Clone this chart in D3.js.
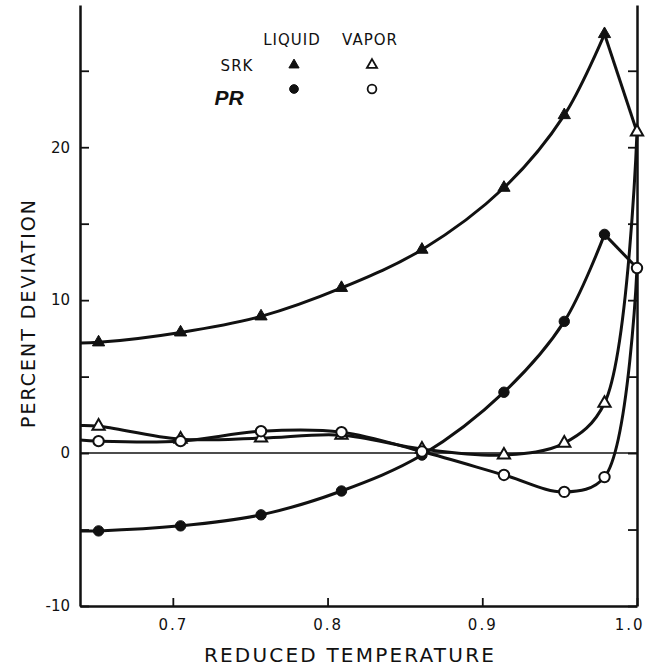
<!DOCTYPE html>
<html>
<head>
<meta charset="utf-8">
<script src="https://cdn.jsdelivr.net/npm/d3@7"></script>
<style>
    body { margin: 0; background: #fff; }
    text { font-family: "DejaVu Sans", sans-serif; fill: #111; }
</style>
</head>
<body>
<div id="chart"></div>
<script>
/*----- Data -----*/

// reduced temperature of each point, first entry is where the curve leaves the left axis
const trValues = [0.64, 0.652, 0.705, 0.757, 0.809, 0.861, 0.914, 0.953, 0.979, 1.0]

// percent deviation, same order as trValues
const srkLiquid = [7.2, 7.24, 7.89, 8.94, 10.8, 13.3, 17.35, 22.1, 27.4, 21.0]
const prLiquid = [-5.1, -5.09, -4.76, -4.04, -2.48, -0.13, 3.98, 8.61, 14.3, 12.1]
const srkVapor = [1.8, 1.76, 0.91, 0.98, 1.17, 0.26, -0.13, 0.65, 3.26, 21.0]
const prVapor = [0.85, 0.78, 0.78, 1.43, 1.37, 0.1, -1.43, -2.54, -1.57, 12.1]

const yTicks = [-10, -5, 0, 5, 10, 15, 20, 25]
const yLabels = [-10, 0, 10, 20]
const xTicks = [0.7, 0.8, 0.9, 1.0]

const legendCols = ["LIQUID", "VAPOR"]
const legendRows = ["SRK", "PR"]

/*----- Setup -----*/

const width = 645, height = 668
const ink = "#111"

const svg = d3.select("#chart").append("svg")
    .attr("width", width)
    .attr("height", height)

const x = d3.scaleLinear().domain([0.64, 1.0]).range([80, 637])
const y = d3.scaleLinear().domain([-10, 29.3]).range([606, 5])

// axes (ticks point inward)
const leftAxis = svg.append("g")
    .attr("transform", `translate(${x(0.64)},0)`)
    .call(d3.axisLeft(y).tickValues(yTicks).tickSizeInner(-9).tickSizeOuter(0).tickPadding(10)
        .tickFormat(d => yLabels.includes(d) ? d : ""))
const rightAxis = svg.append("g")
    .attr("transform", `translate(${x(1.0)},0)`)
    .call(d3.axisRight(y).tickValues(yTicks).tickSizeInner(-9).tickSizeOuter(0).tickFormat(""))
const bottomAxis = svg.append("g")
    .attr("transform", `translate(0,${y(-10)})`)
    .call(d3.axisBottom(x).tickValues(xTicks).tickSizeInner(-8).tickSizeOuter(0).tickPadding(13)
        .tickFormat(d3.format(".1f")))

for (const g of [leftAxis, rightAxis, bottomAxis]) {
    g.select(".domain").attr("stroke", ink).attr("stroke-width", 2.5)
    g.selectAll(".tick line").attr("stroke", ink).attr("stroke-width", 1.8)
    g.selectAll(".tick text").style("font-size", "15px").attr("fill", ink)
}
bottomAxis.selectAll(".tick text").style("letter-spacing", "2px")
// last label sits against the page edge
bottomAxis.selectAll(".tick text").filter(d => d === 1.0)
    .attr("text-anchor", "end")
    .attr("dx", 7)

// zero line
svg.append("line")
    .attr("x1", x(0.64)).attr("x2", x(1.0))
    .attr("y1", y(0)).attr("y2", y(0))
    .attr("stroke", ink).attr("stroke-width", 1.5)

// axis titles
svg.append("text")
    .attr("x", 350).attr("y", 662)
    .attr("text-anchor", "middle")
    .style("font-size", "20px")
    .style("letter-spacing", "2.2px")
    .text("REDUCED TEMPERATURE")
svg.append("text")
    .attr("transform", "translate(35,313) rotate(-90)")
    .attr("text-anchor", "middle")
    .style("font-size", "19px")
    .style("letter-spacing", "2px")
    .text("PERCENT DEVIATION")

/*----- Curves -----*/

const smooth = d3.line()
    .x(d => x(d[0]))
    .y(d => y(d[1]))
    .curve(d3.curveCatmullRom.alpha(0.5))
const straight = d3.line()
    .x(d => x(d[0]))
    .y(d => y(d[1]))

const series = [
    { values: srkLiquid, symbol: d3.symbolTriangle, open: false, liquid: true },
    { values: prLiquid, symbol: d3.symbolCircle, open: false, liquid: true },
    { values: srkVapor, symbol: d3.symbolTriangle, open: true, liquid: false },
    { values: prVapor, symbol: d3.symbolCircle, open: true, liquid: false }
]

series.forEach(s => {
    const pts = trValues.map((t, i) => [t, s.values[i]])
    // liquid curves peak at 0.979 then run straight into the critical point
    const rising = s.liquid ? pts.slice(0, pts.length - 1) : pts
    svg.append("path")
        .attr("d", smooth(rising))
        .attr("fill", "none").attr("stroke", ink).attr("stroke-width", 3)
    if (s.liquid) {
        svg.append("path")
            .attr("d", straight(pts.slice(pts.length - 2)))
            .attr("fill", "none").attr("stroke", ink).attr("stroke-width", 3)
    }
})

// markers drawn on top of every curve
series.forEach(s => {
    const pts = trValues.map((t, i) => [t, s.values[i]]).slice(1, s.liquid ? trValues.length - 1 : trValues.length)
    const size = s.symbol === d3.symbolTriangle ? 65 : 85
    svg.append("g").selectAll("path")
        .data(pts)
        .join("path")
        .attr("transform", d => `translate(${x(d[0])},${y(d[1])})`)
        .attr("d", d3.symbol(s.symbol, size))
        .attr("fill", s.open ? "#fff" : ink)
        .attr("stroke", ink)
        .attr("stroke-width", s.open ? 2 : 1)
})

/*----- Legend -----*/

const legend = svg.append("g")
const colX = [294, 372]
const rowY = [65, 89]

legend.selectAll(".col")
    .data(legendCols)
    .join("text")
    .attr("x", (d, i) => colX[i] - 2)
    .attr("y", 45)
    .attr("text-anchor", "middle")
    .style("font-size", "15px")
    .style("letter-spacing", "1px")
    .text(d => d)

legend.append("text")
    .attr("x", 237).attr("y", 71)
    .attr("text-anchor", "middle")
    .style("font-size", "15px")
    .style("letter-spacing", "1px")
    .text(legendRows[0])
legend.append("text")
    .attr("x", 229).attr("y", 105)
    .attr("text-anchor", "middle")
    .style("font-family", "Liberation Sans, Arial, sans-serif")
    .style("font-size", "21px")
    .style("font-weight", "bold")
    .style("font-style", "italic")
    .text(legendRows[1])

series.forEach(s => {
    const row = s.symbol === d3.symbolTriangle ? 0 : 1
    const col = s.liquid ? 0 : 1
    legend.append("path")
        .attr("transform", `translate(${colX[col]},${rowY[row]})`)
        .attr("d", d3.symbol(s.symbol, s.symbol === d3.symbolTriangle ? 45 : 60))
        .attr("fill", s.open ? "#fff" : ink)
        .attr("stroke", ink)
        .attr("stroke-width", s.open ? 1.8 : 1)
})
</script>
</body>
</html>
